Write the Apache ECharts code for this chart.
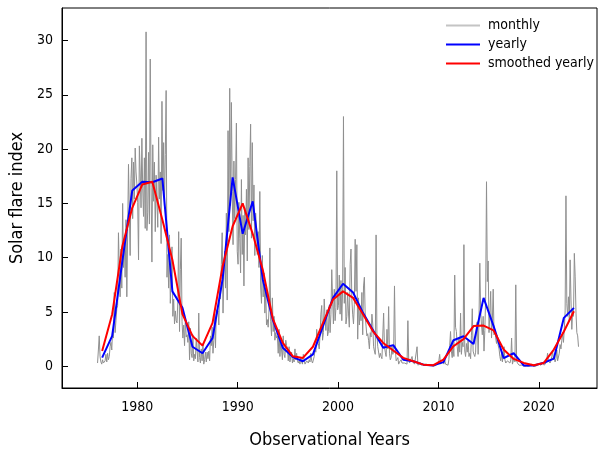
<!DOCTYPE html>
<html>
<head>
<meta charset="utf-8">
<script src="https://cdn.jsdelivr.net/npm/echarts@6/dist/echarts.min.js"></script>
<style>
    html, body { margin: 0; padding: 0; background: #fff; }
    #chart { width: 601px; height: 450px; }
</style>
</head>
<body>
<div id="chart"></div>
<script>
    var firstYear = 1976;

    // monthly values, 12 per year, 1976 .. 2023
    var monthly = [
        0.3, 1.5, 2.8, 0.9, 0.4, 0.2, 0.6, 0.3, 0.2, 0.5, 1.1, 0.4,        // 1976
        1.2, 0.6, 0.9, 1.8, 2.2, 1.5, 3.4, 2.6, 6.8, 3.1, 4.2, 5.3,        // 1977
        5.6, 12.3, 8.9, 6.4, 10.8, 7.2, 15.0, 9.1, 11.8, 8.2, 13.5, 6.4,   // 1978
        12.4, 18.6, 14.1, 10.2, 17.3, 19.2, 13.6, 18.8, 15.4, 20.1, 17.9, 16.8,
        15.1, 9.8, 20.3, 17.8, 14.6, 21.0, 16.4, 13.8, 19.2, 12.7, 30.8, 12.5,   // 1980
        14.2, 19.7, 13.1, 28.3, 16.5, 9.6, 20.4, 15.2, 18.8, 12.4, 17.6, 17.6,
        12.8, 21.1, 15.4, 17.9, 11.3, 24.4, 16.2, 20.6, 14.8, 19.5, 25.4, 8.2,
        10.3, 7.2, 12.1, 5.8, 8.4, 11.0, 4.6, 6.2, 3.9, 5.1, 4.2, 4.0,
        6.1, 12.4, 3.2, 8.9, 11.8, 4.1, 2.6, 3.8, 1.9, 4.4, 2.7, 2.9,
        2.2, 4.1, 0.6, 3.5, 1.2, 0.8, 2.9, 0.5, 1.1, 0.7, 2.6, 1.4,        // 1985
        0.4, 4.9, 0.8, 0.3, 1.6, 0.5, 2.1, 0.2, 0.6, 1.3, 0.4, 1.3,
        0.7, 1.4, 0.5, 2.8, 1.9, 3.6, 1.2, 2.4, 4.8, 1.7, 5.2, 4.8,
        5.1, 3.8, 7.6, 6.2, 9.4, 12.3, 4.9, 8.7, 10.6, 7.2, 14.1, 6.1,
        21.7, 12.4, 25.6, 14.8, 24.3, 16.1, 11.2, 18.9, 13.6, 17.2, 22.4, 10.6,
        9.4, 15.1, 11.8, 8.6, 17.2, 10.3, 13.9, 7.4, 14.6, 12.1, 16.3, 9.7,   // 1990
        19.2, 12.6, 18.4, 22.3, 11.8, 20.6, 13.4, 16.7, 10.2, 14.1, 12.8, 10.3,
        12.4, 9.1, 16.1, 7.3, 5.8, 10.2, 6.4, 8.6, 4.9, 7.1, 3.8, 4.3,
        3.6, 5.2, 10.9, 4.1, 2.8, 6.3, 3.2, 4.6, 2.4, 3.1, 2.6, 2.8,
        1.2, 3.4, 0.9, 2.1, 1.5, 0.6, 2.8, 1.1, 0.8, 2.4, 1.9, 1.7,
        0.5, 1.8, 0.4, 0.9, 1.3, 0.3, 0.7, 0.4, 1.6, 0.6, 1.2, 0.5,        // 1995
        0.3, 0.5, 0.2, 0.8, 0.4, 0.2, 1.1, 0.6, 0.2, 0.3, 0.5, 0.4,
        0.3, 0.6, 0.4, 1.2, 0.5, 0.3, 0.4, 0.9, 1.5, 1.3, 3.4, 2.4,
        2.1, 1.6, 2.9, 4.8, 5.6, 2.4, 3.1, 6.2, 4.4, 3.3, 5.2, 2.8,
        3.2, 5.6, 3.1, 4.8, 8.9, 6.2, 3.9, 7.1, 4.2, 5.4, 18.0, 5.2,
        5.6, 8.4, 4.8, 7.9, 4.2, 7.1, 23.0, 5.8, 9.1, 3.9, 4.6, 6.8,        // 2000
        4.9, 3.6, 9.4, 10.8, 6.2, 4.8, 3.9, 5.7, 11.7, 6.9, 11.2, 2.5,
        6.3, 3.8, 5.1, 4.2, 6.8, 2.9, 7.4, 8.2, 4.6, 3.7, 2.8, 3.0,
        2.4, 1.6, 3.1, 2.7, 4.8, 3.9, 1.8, 1.4, 1.1, 12.1, 2.9, 1.8,
        1.9, 0.8, 1.2, 0.9, 0.7, 0.6, 4.9, 1.8, 1.3, 0.9, 3.4, 1.6,
        5.5, 1.2, 0.6, 0.8, 1.9, 1.1, 1.4, 7.4, 1.6, 0.5, 0.6, 0.8,        // 2005
        0.2, 0.4, 0.3, 0.6, 0.3, 0.2, 0.4, 0.3, 0.2, 0.3, 0.2, 4.2,
        0.6, 0.3, 0.2, 0.4, 0.9, 0.4, 0.3, 0.2, 0.1, 0.2, 1.8, 0.1,
        0.1, 0.2, 0.3, 0.1, 0.1, 0.1, 0.2, 0.1, 0.1, 0.2, 0.1, 0.2,
        0.1, 0.1, 0.0, 0.1, 0.1, 0.1, 0.0, 0.1, 0.1, 0.1, 0.1, 0.1,
        0.5, 1.1, 0.2, 0.3, 0.4, 0.5, 0.2, 0.6, 0.2, 0.3, 0.2, 0.1,        // 2010
        0.6, 1.9, 3.2, 1.4, 0.8, 2.1, 0.9, 8.4, 3.6, 3.2, 1.8, 0.9,
        2.6, 1.3, 4.9, 1.1, 2.2, 1.8, 11.2, 1.4, 0.9, 2.1, 1.3, 2.4,
        0.9, 1.2, 0.7, 2.8, 5.3, 1.4, 1.1, 0.9, 1.3, 3.9, 4.1, 1.1,
        4.2, 9.5, 5.1, 3.8, 2.9, 4.6, 1.4, 3.3, 6.4, 17.0, 7.8, 9.7,
        3.1, 4.8, 6.9, 2.6, 4.2, 7.1, 2.9, 3.4, 2.6, 2.1, 2.8, 1.9,        // 2015
        1.6, 0.9, 0.5, 1.2, 0.4, 0.3, 1.8, 0.6, 0.3, 0.4, 0.5, 0.5,
        0.4, 0.3, 0.6, 2.6, 0.2, 0.3, 0.8, 0.4, 7.5, 0.5, 0.3, 0.2,
        0.1, 0.2, 0.0, 0.1, 0.0, 0.1, 0.0, 0.1, 0.1, 0.0, 0.1, 0.1,
        0.0, 0.1, 0.1, 0.2, 0.1, 0.0, 0.1, 0.0, 0.0, 0.1, 0.1, 0.2,
        0.1, 0.2, 0.1, 0.2, 0.3, 0.2, 0.1, 0.2, 0.3, 0.6, 1.2, 0.5,        // 2020
        0.4, 0.3, 0.5, 0.9, 1.4, 0.6, 0.8, 0.4, 0.7, 1.5, 0.5, 0.4,
        1.2, 2.0, 1.6, 2.4, 3.1, 2.2, 3.4, 5.1, 15.7, 5.8, 4.6, 6.4,
        4.2, 9.8, 6.1, 3.4, 5.2, 4.6, 10.4, 8.3, 4.9, 3.1, 2.8, 1.8         // 2023
    ];

    // yearly means, plotted at mid-year 1976.5 .. 2023.5
    var yearly = [
        0.8, 2.8, 9.6, 16.2, 17.0, 16.95, 17.3, 6.9, 5.4, 1.8,
        1.2, 2.6, 8.0, 17.4, 12.2, 15.2, 8.0, 4.3, 1.7, 0.85,
        0.46, 1.1, 3.7, 6.3, 7.6, 6.8, 4.9, 3.3, 1.7, 1.95,
        0.6, 0.46, 0.15, 0.08, 0.38, 2.4, 2.77, 2.06, 6.3, 3.7,
        0.75, 1.2, 0.08, 0.08, 0.33, 0.7, 4.46, 5.38
    ];

    var smoothed = [
        1.4, 4.8, 11.0, 14.6, 16.75, 17.0, 13.5, 9.8, 4.8, 2.8,
        1.9, 4.0, 9.2, 12.9, 15.0, 12.2, 8.9, 4.4, 2.15, 0.92,
        0.77, 1.8, 4.0, 6.15, 6.9, 6.3, 4.77, 3.2, 2.15, 1.45,
        0.77, 0.46, 0.15, 0.1, 0.62, 1.85, 2.5, 3.7, 3.75, 3.3,
        1.54, 0.68, 0.31, 0.1, 0.31, 1.54, 3.2, 5.07
    ];

    var xTicks = [1980, 1990, 2000, 2010, 2020];
    var yTicks = [0, 5, 10, 15, 20, 25, 30];

    var monthlyData = [];
    for (var i = 0; i < monthly.length; i++) {
        monthlyData.push([firstYear + (i + 0.5) / 12, monthly[i]]);
    }
    var yearlyData = [];
    var smoothData = [];
    for (i = 0; i < yearly.length; i++) {
        yearlyData.push([firstYear + i + 0.5, yearly[i]]);
        smoothData.push([firstYear + i + 0.5, smoothed[i]]);
    }

    var font = '"DejaVu Sans Condensed", "DejaVu Sans", sans-serif';

    var option = {
        animation: false,
        backgroundColor: '#fff',
        textStyle: { fontFamily: font },
        grid: {
            left: 62,
            right: 4,
            top: 8,
            bottom: 62,
            outerBoundsMode: 'none',   // keep grid where it is, don't shrink for axis name
            show: true,
            borderColor: '#000',
            borderWidth: 1
        },
        legend: {
            orient: 'vertical',
            left: 446,
            top: 18,
            padding: 0,
            itemGap: 4,
            itemWidth: 34,
            itemHeight: 2,
            textStyle: { fontFamily: font, fontSize: 14, lineHeight: 15, color: '#000', padding: [0, 0, 0, 3] },
            data: [
                { name: 'monthly', icon: 'rect', itemStyle: { color: '#c4c4c4' } },
                { name: 'yearly', icon: 'rect' },
                { name: 'smoothed yearly', icon: 'rect' }
            ]
        },
        xAxis: {
            type: 'value',
            min: 1972.5,
            max: 2025.8,
            name: 'Observational Years',
            nameLocation: 'middle',
            nameGap: 43,
            nameTextStyle: { fontFamily: font, fontSize: 18, color: '#000' },
            axisLine: { show: true, onZero: false, lineStyle: { color: '#000', width: 1 } },
            axisTick: { show: true, inside: true, length: 6, customValues: xTicks, lineStyle: { color: '#000' } },
            axisLabel: {
                customValues: xTicks, margin: 12, fontSize: 14, color: '#000', fontFamily: font,
                formatter: function (v) { return String(v); }   // no thousands comma
            },
            splitLine: { show: false }
        },
        yAxis: {
            type: 'value',
            min: -2,
            max: 33,
            name: 'Solar flare index',
            nameLocation: 'middle',
            nameGap: 34,
            nameTextStyle: { fontFamily: font, fontSize: 18, color: '#000' },
            axisLine: { show: true, lineStyle: { color: '#000', width: 1 } },
            axisTick: { show: true, inside: true, length: 6, customValues: yTicks, lineStyle: { color: '#000' } },
            axisLabel: { customValues: yTicks, margin: 9, fontSize: 14, color: '#000', fontFamily: font },
            splitLine: { show: false }
        },
        series: [
            {
                name: 'monthly',
                type: 'line',
                symbol: 'none',
                data: monthlyData,
                lineStyle: { color: '#8f8f8f', width: 1 },
                itemStyle: { color: '#8f8f8f' },
                z: 1
            },
            {
                name: 'yearly',
                type: 'line',
                symbol: 'none',
                data: yearlyData,
                lineStyle: { color: '#0000ff', width: 2 },
                itemStyle: { color: '#0000ff' },
                z: 2
            },
            {
                name: 'smoothed yearly',
                type: 'line',
                symbol: 'none',
                data: smoothData,
                lineStyle: { color: '#ff0000', width: 2 },
                itemStyle: { color: '#ff0000' },
                z: 3
            }
        ]
    };

    var myChart = echarts.init(document.getElementById('chart'));
    myChart.setOption(option);
</script>
</body>
</html>
